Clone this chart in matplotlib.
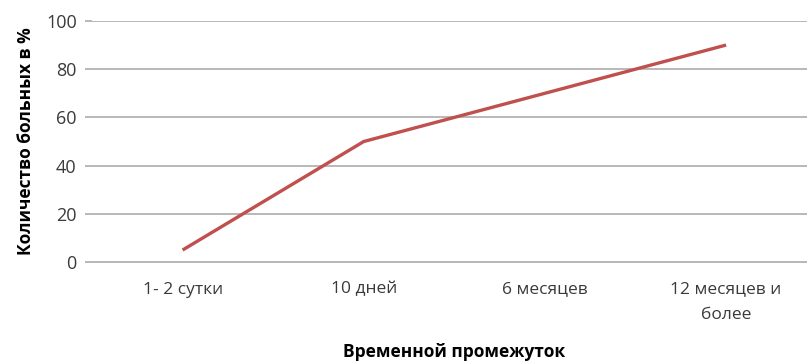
import matplotlib
matplotlib.use("Agg")
import matplotlib.pyplot as plt

# данные графика
periods = ["1- 2 сутки", "10 дней", "6 месяцев", "12 месяцев и\nболее"]
patients_pct = [5, 50, 70, 90]
y_ticks = [0, 20, 40, 60, 80, 100]

plt.rcParams["font.family"] = ["Open Sans", "DejaVu Sans"]

fig = plt.figure(figsize=(8.07, 3.61), dpi=100)
# область построения уходит за правый край, как на исходнике
ax = fig.add_axes([0.114, 0.274, 0.898, 0.668])

x = range(len(periods))
ax.plot(x, patients_pct, color="#c0504d", linewidth=2.4, solid_capstyle="butt")

ax.set_xlim(-0.5, len(periods) - 0.5)
ax.set_ylim(0, 100)
ax.set_yticks(y_ticks)
ax.set_xticks(list(x))
ax.set_xticklabels(periods, fontsize=12.5, color="#3a3a3a", linespacing=1.75)
ax.tick_params(axis="y", labelsize=13, labelcolor="#3a3a3a", color="#b8b8b8",
               length=5, width=1.4, pad=6)
ax.tick_params(axis="x", length=0, pad=14)

ax.yaxis.grid(True, color="#b8b8b8", linewidth=1.4)
ax.set_axisbelow(True)
for s in ["top", "right", "left"]:
    ax.spines[s].set_visible(False)
ax.spines["bottom"].set_color("#b8b8b8")
ax.spines["bottom"].set_linewidth(1.4)

ax.set_ylabel("Количество больных в %", fontsize=12.5, fontweight="bold", labelpad=8)
ax.set_xlabel("Временной промежуток", fontsize=12.5, fontweight="bold", labelpad=15)

fig.savefig("out.png", dpi=100)
